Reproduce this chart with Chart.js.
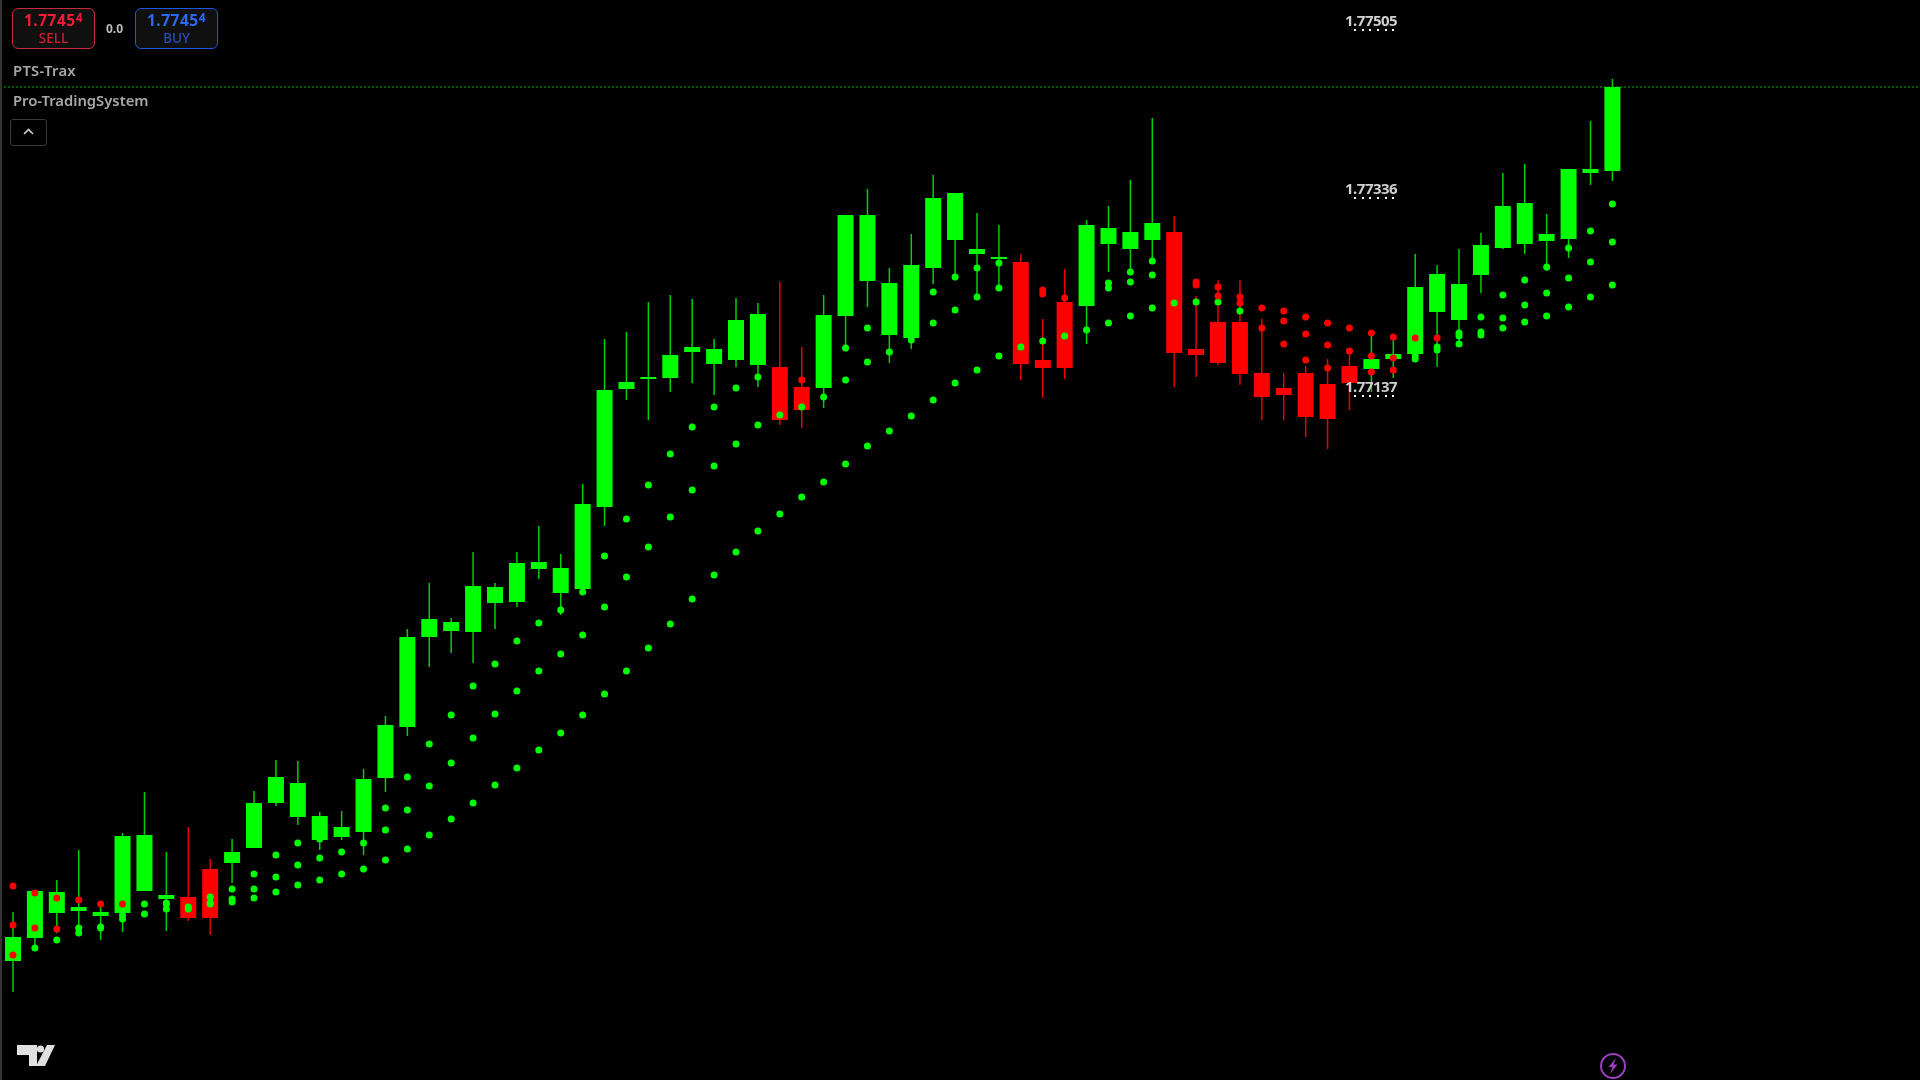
<!DOCTYPE html>
<html lang="en">
<head>
<meta charset="utf-8">
<title>PTS-Trax</title>
<script src="https://cdn.jsdelivr.net/npm/chart.js@4/dist/chart.umd.min.js"></script>
<style>
  html, body { margin: 0; padding: 0; background: #000; }
  #wrap { position: relative; width: 1920px; height: 1080px; overflow: hidden; background: #000; font-family: "Noto Sans", sans-serif; }
  #wrap canvas { position: absolute; left: 0; top: 0; }
  #edge { position: absolute; left: 0; top: 0; width: 2px; height: 1080px; background: #333; }

  .quote { position: absolute; top: 8px; width: 81px; height: 39px; border: 1.5px solid; border-radius: 6px; background: #101010; text-align: center; font-weight: 700; }
  .quote .price { position: absolute; left: 0; right: 0; top: 1px; font-size: 15.5px; line-height: 20px; letter-spacing: 0.5px; }
  .quote .price sup { font-size: 12px; line-height: 0; vertical-align: 4px; }
  .quote .side { position: absolute; left: 0; right: 0; top: 21px; font-size: 13.5px; line-height: 16px; font-weight: 500; }
  #sell { left: 12px; border-color: #c42a3c; color: #f01c34; }
  #sell .side { color: #d0202f; }
  #buy { left: 135px; border-color: #1f55e0; color: #2a6af0; }
  #buy .side { color: #2a4db8; }
  #spread { position: absolute; left: 106px; top: 21px; font-size: 12px; line-height: 16px; font-weight: 700; color: #bbb; }

  .title { position: absolute; left: 13px; font-size: 14.8px; line-height: 20px; font-weight: 600; color: #a8a8a8; }
  #toggle { position: absolute; left: 10px; top: 119px; width: 35px; height: 25px; border: 1px solid #3a3a3a; border-radius: 3px; }

  .mark { position: absolute; left: 1345px; width: 54px; font-size: 15px; line-height: 18px; font-weight: 700; color: #d0d0d0; letter-spacing: -0.5px; white-space: nowrap; }
  .mark i { position: absolute; left: 9px; top: 18px; width: 41px; height: 2px; background: repeating-linear-gradient(90deg, #fff 0 2px, transparent 2px 7.7px); }

  svg.icon { position: absolute; }
</style>
</head>
<body>
<div id="wrap">
  <canvas id="priceChart" width="1920" height="1080"></canvas>
  <div id="edge"></div>

  <div id="sell" class="quote"><div class="price">1.7745<sup>4</sup></div><div class="side">SELL</div></div>
  <div id="spread">0.0</div>
  <div id="buy" class="quote"><div class="price">1.7745<sup>4</sup></div><div class="side">BUY</div></div>

  <div class="title" style="top:60px;letter-spacing:0.3px">PTS-Trax</div>
  <div class="title" style="top:90px">Pro-TradingSystem</div>
  <div id="toggle">
    <svg class="icon" style="left:11px;top:7px" width="13" height="9" viewBox="0 0 13 9">
      <path d="M2 7 L6.5 2.5 L11 7" fill="none" stroke="#ccc" stroke-width="1.6"/>
    </svg>
  </div>

  <div class="mark" style="top:11px">1.77505<i></i></div>
  <div class="mark" style="top:179px">1.77336<i></i></div>
  <div class="mark" style="top:377px">1.77137<i></i></div>

  <svg class="icon" style="left:15px;top:1043px" width="42" height="25" viewBox="0 0 42 25">
    <path d="M2 2 H22 V23 H14 V12 H2 Z M32 2 H40 L30 23 H21 Z" fill="#e0e0e0"/>
    <circle cx="25.5" cy="6" r="3.6" fill="#e0e0e0"/>
  </svg>
  <svg class="icon" style="left:1598px;top:1052px" width="30" height="28" viewBox="0 0 30 28">
    <circle cx="15" cy="14" r="12" fill="none" stroke="#9a3fc0" stroke-width="2"/>
    <path d="M18 6 L10.5 15 H14.5 L12 22 L19.5 12.5 H15.5 Z" fill="#9a3fc0"/>
  </svg>
</div>

<script>
// Candles, oldest first
const opens = [
  1.76580, 1.76603, 1.76628, 1.76630, 1.76625, 1.76628, 1.76650, 1.76642, 1.76644, 1.76672,
  1.76678, 1.76693, 1.76738, 1.76724, 1.76701, 1.76704, 1.76709, 1.76763, 1.76814, 1.76904,
  1.76910, 1.76909, 1.76938, 1.76939, 1.76972, 1.76948, 1.76952, 1.77034, 1.77152, 1.77162,
  1.77163, 1.77189, 1.77177, 1.77181, 1.77176, 1.77174, 1.77154, 1.77153, 1.77225, 1.77260,
  1.77206, 1.77203, 1.77273, 1.77301, 1.77287, 1.77282, 1.77279, 1.77181, 1.77239, 1.77235,
  1.77297, 1.77292, 1.77301, 1.77309, 1.77192, 1.77219, 1.77219, 1.77168, 1.77153, 1.77168,
  1.77157, 1.77175, 1.77172, 1.77182, 1.77187, 1.77229, 1.77221, 1.77266, 1.77293, 1.77297,
  1.77300, 1.77302, 1.77368, 1.77370
];
const closes = [
  1.76604, 1.76650, 1.76649, 1.76634, 1.76629, 1.76705, 1.76706, 1.76646, 1.76623, 1.76623,
  1.76689, 1.76738, 1.76764, 1.76758, 1.76725, 1.76714, 1.76762, 1.76816, 1.76904, 1.76922,
  1.76919, 1.76955, 1.76954, 1.76978, 1.76979, 1.76973, 1.77037, 1.77151, 1.77159, 1.77164,
  1.77186, 1.77194, 1.77192, 1.77221, 1.77227, 1.77121, 1.77131, 1.77226, 1.77326, 1.77326,
  1.77258, 1.77276, 1.77343, 1.77348, 1.77292, 1.77283, 1.77177, 1.77173, 1.77173, 1.77316,
  1.77313, 1.77309, 1.77318, 1.77188, 1.77186, 1.77178, 1.77167, 1.77144, 1.77146, 1.77124,
  1.77122, 1.77158, 1.77182, 1.77187, 1.77254, 1.77267, 1.77257, 1.77296, 1.77335, 1.77338,
  1.77307, 1.77372, 1.77372, 1.77454
];
const highs = [
  1.76629, 1.76650, 1.76661, 1.76691, 1.76637, 1.76708, 1.76749, 1.76689, 1.76714, 1.76682,
  1.76702, 1.76750, 1.76781, 1.76780, 1.76729, 1.76730, 1.76772, 1.76825, 1.76912, 1.76958,
  1.76923, 1.76989, 1.76958, 1.76989, 1.77015, 1.76987, 1.77057, 1.77202, 1.77209, 1.77239,
  1.77246, 1.77242, 1.77202, 1.77243, 1.77238, 1.77259, 1.77194, 1.77246, 1.77326, 1.77352,
  1.77273, 1.77307, 1.77366, 1.77348, 1.77328, 1.77316, 1.77287, 1.77222, 1.77272, 1.77321,
  1.77335, 1.77361, 1.77423, 1.77325, 1.77245, 1.77261, 1.77261, 1.77222, 1.77168, 1.77175,
  1.77182, 1.77188, 1.77205, 1.77201, 1.77287, 1.77276, 1.77292, 1.77308, 1.77368, 1.77377,
  1.77327, 1.77372, 1.77420, 1.77462
];
const lows = [
  1.76549, 1.76593, 1.76608, 1.76611, 1.76601, 1.76609, 1.76650, 1.76610, 1.76620, 1.76606,
  1.76658, 1.76693, 1.76735, 1.76716, 1.76691, 1.76701, 1.76686, 1.76749, 1.76805, 1.76874,
  1.76888, 1.76878, 1.76912, 1.76934, 1.76962, 1.76926, 1.76946, 1.77015, 1.77141, 1.77121,
  1.77149, 1.77158, 1.77146, 1.77174, 1.77154, 1.77116, 1.77113, 1.77133, 1.77193, 1.77234,
  1.77178, 1.77192, 1.77257, 1.77264, 1.77244, 1.77253, 1.77161, 1.77143, 1.77162, 1.77197,
  1.77269, 1.77269, 1.77280, 1.77154, 1.77164, 1.77176, 1.77156, 1.77121, 1.77121, 1.77104,
  1.77092, 1.77131, 1.77149, 1.77163, 1.77180, 1.77174, 1.77194, 1.77248, 1.77292, 1.77287,
  1.77270, 1.77283, 1.77356, 1.77360
];

// PTS-Trax dots, three bands per candle, null where no dot shows
const bandUpper = [
  1.76655, 1.76648, 1.76643, 1.76641, 1.76637, 1.76637, 1.76637, 1.76638, 1.76634, 1.76644,
  1.76652, 1.76667, 1.76686, 1.76698, 1.76702, 1.76689, 1.76698, 1.76733, 1.76764, 1.76797,
  1.76826, 1.76855, 1.76877, 1.76900, 1.76918, 1.76931, 1.76949, 1.76985, 1.77022, 1.77056,
  1.77087, 1.77114, 1.77134, 1.77153, 1.77164, 1.77126, 1.77161, 1.77144, 1.77193, 1.77213,
  1.77189, 1.77201, 1.77249, 1.77264, 1.77273, 1.77278, 1.77194, 1.77251, 1.77243, 1.77211,
  1.77258, 1.77269, 1.77280, 1.77238, 1.77259, 1.77254, 1.77244, 1.77233, 1.77230, 1.77224,
  1.77218, 1.77213, 1.77208, 1.77204, 1.77203, 1.77203, 1.77208, 1.77224, 1.77246, 1.77261,
  1.77274, 1.77293, 1.77310, 1.77337
];
const bandMiddle = [
  1.76616, 1.76613, 1.76612, 1.76613, 1.76614, 1.76626, 1.76627, 1.76637, 1.76632, 1.76638,
  1.76642, 1.76652, 1.76664, 1.76676, 1.76683, 1.76667, 1.76672, 1.76711, 1.76731, 1.76755,
  1.76778, 1.76803, 1.76827, 1.76850, 1.76870, 1.76887, 1.76906, 1.76934, 1.76964, 1.76994,
  1.77024, 1.77051, 1.77075, 1.77097, 1.77116, 1.77027, 1.77134, 1.77059, 1.77161, 1.77179,
  1.77110, 1.77125, 1.77218, 1.77231, 1.77244, 1.77253, null, 1.77247, 1.77205, null,
  1.77253, 1.77259, 1.77266, null, 1.77256, 1.77245, 1.77238, 1.77213, 1.77220, 1.77207,
  1.77196, 1.77190, 1.77185, 1.77183, 1.77186, 1.77194, 1.77205, 1.77209, 1.77223, 1.77236,
  1.77248, 1.77263, 1.77279, 1.77299
];
const bandLower = [
  1.76586, 1.76593, 1.76601, 1.76608, 1.76613, 1.76622, null, 1.76632, null, 1.76637,
  1.76639, 1.76643, 1.76649, 1.76656, 1.76661, null, null, 1.76681, 1.76692, 1.76706,
  1.76722, 1.76738, 1.76756, 1.76773, 1.76791, 1.76808, 1.76826, 1.76847, 1.76870, 1.76893,
  1.76917, 1.76942, 1.76966, 1.76989, 1.77010, null, 1.77044, null, 1.77077, 1.77095,
  null, null, 1.77141, 1.77158, 1.77171, 1.77185, null, 1.77200, null, null,
  1.77218, 1.77225, 1.77233, null, 1.77239, 1.77239, 1.77230, null, 1.77197, 1.77181,
  1.77173, null, 1.77169, 1.77171, 1.77182, 1.77191, 1.77197, 1.77206, 1.77213, 1.77219,
  1.77225, 1.77234, 1.77244, 1.77256
];

// R or G for each dot
const upperSignals = 'RRRRRR GGGGGGGGGGGGGGGGGGGGGGGGGGGGGG R GGGGGGGGGG RR GGGGG RRRRRRRRRRRR GGGGGGGG'.replace(/ /g, '');
const middleSignals = 'RRR GGGGGGGGGGGGGGGGGGGGGGGGGGGGGGGGGGGGGGGGGGGG R GGGGGG RRRRRRRRRR GGGGGGGGGG'.replace(/ /g, '');
const lowerSignals = 'R GGGGGGGGGGGGGGGGGGGGGGGGGGGGGGGGGGGGGGGGGGGGGGGGGGGGGGGGG RRRRRR GGGGGGGGGGGG'.replace(/ /g, '');

const lastPrice = 1.77454;

const GREEN = '#00ff00';
const RED = '#ff0000';

// Visible range of the chart
const priceMin = 1.76461;
const priceMax = 1.77541;
const barMin = -0.593;
const barMax = 87.04;

function candleColor(i) {
  return closes[i] >= opens[i] ? GREEN : RED;
}

function bandDataset(values, signals) {
  return {
    type: 'scatter',
    data: values.map((v, i) => ({ x: i, y: v })),
    pointRadius: 3.5,
    pointBorderWidth: 0,
    pointBackgroundColor: values.map((v, i) => (signals[i] === 'R' ? RED : GREEN)),
    showLine: false
  };
}

function initPriceChart() {
  const ctx = document.getElementById('priceChart');

  new Chart(ctx, {
    data: {
      datasets: [
        bandDataset(bandUpper, upperSignals),
        bandDataset(bandMiddle, middleSignals),
        bandDataset(bandLower, lowerSignals),
        // Bodies
        {
          type: 'bar',
          data: opens.map((o, i) => ({ x: i, y: [Math.min(o, closes[i]), Math.max(o, closes[i])] })),
          backgroundColor: opens.map((o, i) => candleColor(i)),
          barThickness: 16,
          minBarLength: 2,
          grouped: false,
          inflateAmount: 0
        },
        // Wicks
        {
          type: 'bar',
          data: highs.map((h, i) => ({ x: i, y: [lows[i], h] })),
          backgroundColor: highs.map((h, i) => (candleColor(i) === GREEN ? '#00d000' : '#e80000')),
          barThickness: 1.5,
          grouped: false,
          inflateAmount: 0
        },
        // Last price line
        {
          type: 'scatter',
          data: [{ x: barMin, y: lastPrice }, { x: barMax, y: lastPrice }],
          showLine: true,
          borderColor: '#00b000',
          borderWidth: 1,
          borderDash: [2, 2],
          pointRadius: 0
        }
      ]
    },
    options: {
      responsive: false,
      animation: false,
      events: [],
      layout: { padding: 0, autoPadding: false },
      scales: {
        x: { type: 'linear', display: false, offset: false, min: barMin, max: barMax },
        y: { type: 'linear', display: false, min: priceMin, max: priceMax }
      },
      plugins: {
        legend: { display: false },
        tooltip: { enabled: false }
      }
    }
  });
}

// Inicialização
document.addEventListener('DOMContentLoaded', () => {
  initPriceChart();
});
</script>
</body>
</html>
